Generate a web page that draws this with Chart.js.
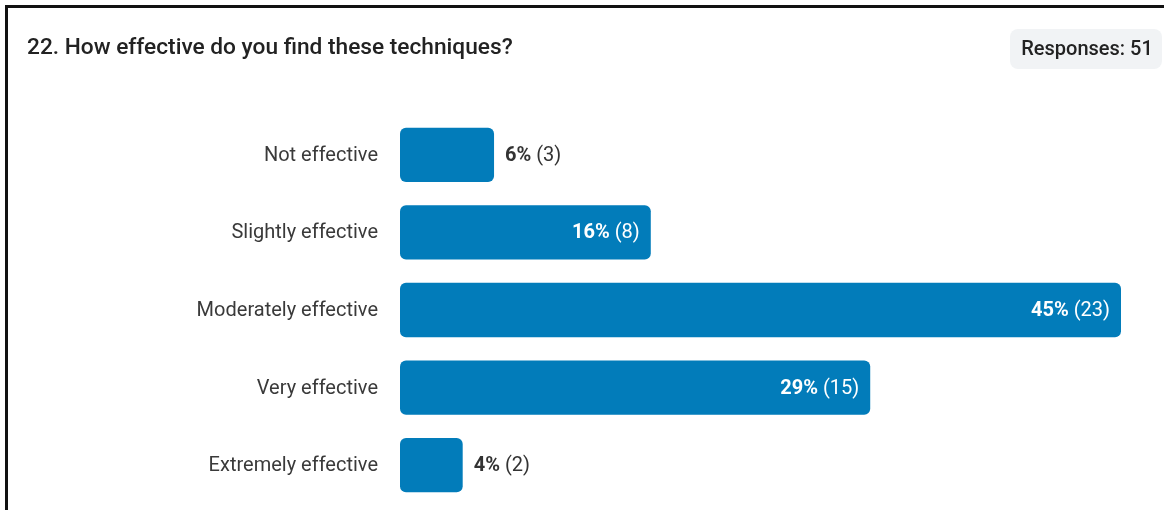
<!DOCTYPE html>
<html>
<head>
<meta charset="utf-8">
<script src="https://cdn.jsdelivr.net/npm/chart.js@4/dist/chart.umd.min.js"></script>
<style>
  html, body { margin: 0; padding: 0; background: #ffffff; }
  #wrap { width: 1164px; height: 510px; }
</style>
</head>
<body>
<div id="wrap"><canvas id="chart" width="1164" height="510"></canvas></div>
<script>
// Survey question and answers
const questionTitle = '22. How effective do you find these techniques?';
const categories = ['Not effective', 'Slightly effective', 'Moderately effective', 'Very effective', 'Extremely effective'];
const responseCounts = [3, 8, 23, 15, 2];
const totalResponses = 51;

const BAR_COLOR = '#027cba';
const FONT = 'Roboto, "Noto Sans", sans-serif';

function pctText(count) {
  return Math.round(count / totalResponses * 100) + '%';
}

// Draws the frame, question title, response badge, category names and value labels
const surveyDecor = {
  id: 'surveyDecor',
  beforeDraw(chart) {
    const ctx = chart.ctx;
    ctx.save();
    ctx.fillStyle = '#ffffff';
    ctx.fillRect(0, 0, chart.width, chart.height);

    // card frame (left and top edges)
    ctx.fillStyle = '#111111';
    ctx.fillRect(5, 5, chart.width - 5, 3);
    ctx.fillRect(5, 5, 3, chart.height - 5);

    // title
    ctx.fillStyle = '#222222';
    ctx.font = '500 22.7px ' + FONT;
    ctx.textAlign = 'left';
    ctx.textBaseline = 'middle';
    ctx.fillText(questionTitle, 27, 48);

    // responses badge
    const badgeText = 'Responses: ' + totalResponses;
    ctx.font = '500 20px ' + FONT;
    const bx = 1010, by = 29, bw = 152, bh = 40;
    ctx.fillStyle = '#f1f3f5';
    ctx.beginPath();
    ctx.roundRect(bx, by, bw, bh, 8);
    ctx.fill();
    ctx.fillStyle = '#222222';
    ctx.textAlign = 'center';
    ctx.fillText(badgeText, bx + bw / 2 + 1, by + bh / 2 + 1);
    ctx.restore();
  },
  afterDatasetsDraw(chart) {
    const ctx = chart.ctx;
    const yScale = chart.scales.y;
    const meta = chart.getDatasetMeta(0);
    ctx.save();
    ctx.textBaseline = 'middle';

    categories.forEach((name, i) => {
      const y = yScale.getPixelForValue(i) + 1;
      // category name, right aligned before the bars
      ctx.font = '400 20px ' + FONT;
      ctx.fillStyle = '#3a3a3a';
      ctx.textAlign = 'right';
      ctx.fillText(name, chart.chartArea.left - 22, y);

      // value label: "NN%" bold + " (n)" regular
      const bar = meta.data[i];
      const left = bar.base;
      const right = bar.x;
      const boldPart = pctText(responseCounts[i]);
      const normPart = ' (' + responseCounts[i] + ')';
      ctx.font = '700 20px ' + FONT;
      const wB = ctx.measureText(boldPart).width;
      ctx.font = '400 20px ' + FONT;
      const wN = ctx.measureText(normPart).width;
      const total = wB + wN;
      const pad = 11;
      let x0, color;
      // label goes inside only when the bar leaves generous room
      if (total + 48 < right - left) {
        x0 = right - pad - total;
        color = '#ffffff';
      } else {
        x0 = right + pad;
        color = '#333333';
      }
      ctx.textAlign = 'left';
      ctx.fillStyle = color;
      ctx.font = '700 20px ' + FONT;
      ctx.fillText(boldPart, x0, y);
      ctx.font = '400 20px ' + FONT;
      ctx.fillText(normPart, x0 + wB, y);
    });
    ctx.restore();
  }
};

new Chart(document.getElementById('chart'), {
  type: 'bar',
  data: {
    labels: categories,
    datasets: [{
      data: responseCounts,
      backgroundColor: BAR_COLOR,
      borderRadius: 6,
      borderSkipped: false,
      barPercentage: 0.7,
      categoryPercentage: 1
    }]
  },
  options: {
    responsive: false,
    animation: false,
    indexAxis: 'y',
    layout: { padding: { left: 400, right: 43, top: 116, bottom: 6 } },
    scales: {
      x: { display: false, min: 0, max: Math.max(...responseCounts) },
      y: { display: false }
    },
    plugins: {
      legend: { display: false },
      tooltip: { enabled: false }
    }
  },
  plugins: [surveyDecor]
});
</script>
</body>
</html>
